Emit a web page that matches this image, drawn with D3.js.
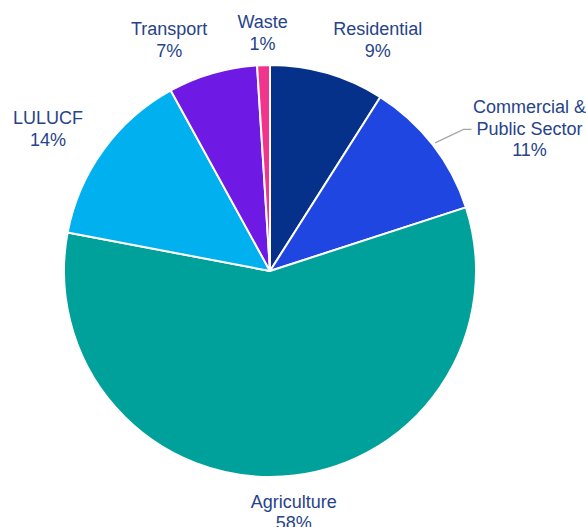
<!DOCTYPE html>
<html>
<head>
<meta charset="utf-8">
<script src="https://cdn.jsdelivr.net/npm/d3@7"></script>
<style>
  html, body { margin: 0; padding: 0; background: #fff; }
  svg { display: block; }
</style>
</head>
<body>
<div class="container"></div>
<script>
// chart data
var sectors = ["Residential", "Commercial & Public Sector", "Agriculture", "LULUCF", "Transport", "Waste"];
var shares  = [9, 11, 58, 14, 7, 1];
var colors  = ["#06318a", "#2046e2", "#00a19b", "#00b0ef", "#6f19e4", "#f2358c"];
// label text lines (name may wrap)
var labelLines = [["Residential"], ["Commercial &", "Public Sector"], ["Agriculture"], ["LULUCF"], ["Transport"], ["Waste"]];
// nudges from the default label point, in px
var labelNudge = [[42, -9], [73, -13], [9, 1], [-31, -8], [-35, -9], [0, -7]];

var width = 586, height = 527;
var cx = 270, cy = 271, radius = 206;

var svg = d3.select(".container").append("svg")
  .attr("width", width)
  .attr("height", height);

var g = svg.append("g").attr("transform", "translate(" + cx + "," + cy + ")");

var pie = d3.pie().sort(null).value(function(d) { return d; });
var arcs = pie(shares);

var arc = d3.arc().innerRadius(0).outerRadius(radius);
var labelArc = d3.arc().innerRadius(radius + 30).outerRadius(radius + 30);
var edgeArc = d3.arc().innerRadius(radius + 3).outerRadius(radius + 3);

g.selectAll("path.slice")
  .data(arcs)
  .enter().append("path")
  .attr("class", "slice")
  .attr("d", arc)
  .attr("fill", function(d, i) { return colors[i]; })
  .attr("stroke", "#fff")
  .attr("stroke-width", 2)
  .attr("stroke-linejoin", "round");

var lbl = g.selectAll("text.lbl")
  .data(arcs)
  .enter().append("text")
  .attr("class", "lbl")
  .attr("text-anchor", "middle")
  .style("font-family", "Arial, 'Liberation Sans', sans-serif")
  .style("font-size", "18px")
  .style("fill", "#27438a")
  .attr("transform", function(d, i) {
    var c = labelArc.centroid(d);
    return "translate(" + (c[0] + labelNudge[i][0]) + "," + (c[1] + labelNudge[i][1]) + ")";
  });

lbl.each(function(d, i) {
  var t = d3.select(this);
  var lines = labelLines[i].concat([shares[i] + "%"]);
  lines.forEach(function(s, k) {
    t.append("tspan").attr("x", 0).attr("y", k * 21.5).text(s);
  });
});

// leader line for the commercial label
var ci = 1;
var p0 = edgeArc.centroid(arcs[ci]);
var lc = labelArc.centroid(arcs[ci]);
var tx = lc[0] + labelNudge[ci][0], ty = lc[1] + labelNudge[ci][1];
g.append("polyline")
  .attr("points", [p0, [tx - 66, ty + 16], [tx - 58, ty + 16]].map(function(p) { return p.join(","); }).join(" "))
  .attr("fill", "none")
  .attr("stroke", "#a6a6a6")
  .attr("stroke-width", 1.2);
</script>
</body>
</html>
